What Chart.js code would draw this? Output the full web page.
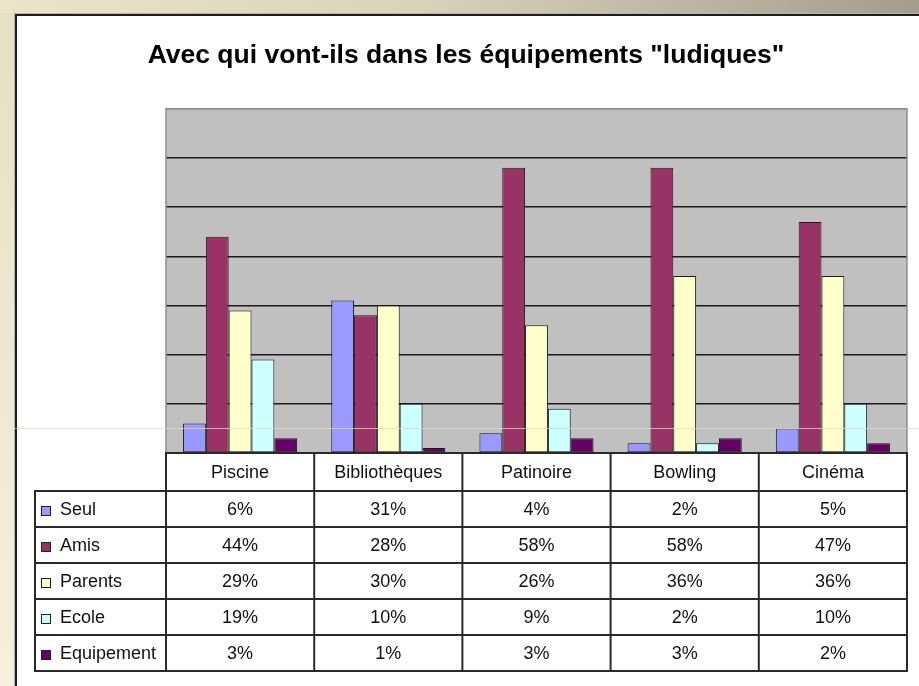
<!DOCTYPE html>
<html><head><meta charset="utf-8">
<script src="https://cdn.jsdelivr.net/npm/chart.js@4/dist/chart.umd.min.js"></script>
<style>
html,body{margin:0;padding:0;width:919px;height:686px;overflow:hidden;background:#fff;}
#leftStrip{position:absolute;left:0;top:0;width:14px;height:686px;background:linear-gradient(#e6dfc4,#f6f0dc);}
#topStrip{position:absolute;left:0;top:0;width:919px;height:13px;background:linear-gradient(to right,#ebe4ca,#d9d3ba 45%,#a29e8a);}
#panel{position:absolute;left:14px;top:13px;width:905px;height:673px;background:#fff;border-top:1px solid #b4b4b4;border-left:1px solid #b4b4b4;box-sizing:border-box;}
#inner{position:absolute;left:0;top:0;right:0;bottom:0;border-top:2px solid #1e1e1e;border-left:2px solid #1e1e1e;}
#wrap{position:absolute;left:25px;top:0;width:894px;height:686px;}
#artifact{position:absolute;left:15px;top:428px;width:904px;height:1px;background:rgba(225,220,185,0.75);}
</style>
</head><body>
<div id="leftStrip"></div><div id="topStrip"></div>
<div id="panel"><div id="inner"></div></div>
<div id="wrap"><canvas id="c" width="894" height="686" style="width:894px;height:686px"></canvas></div>
<div id="artifact"></div>
<script>
const categories = ['Piscine','Bibliothèques','Patinoire','Bowling','Cinéma'];
const seriesNames = ['Seul','Amis','Parents','Ecole','Equipement'];
const seul = [6,31,4,2,5];
const amis = [44,28,58,58,47];
const parents = [29,30,26,36,36];
const ecole = [19,10,9,2,10];
const equipement = [3,1,3,3,2];
const yTicks = [0,10,20,30,40,50,60,70];
const colors = ['#9999ff','#993366','#ffffcc','#ccffff','#660066'];
const seriesValues = [seul,amis,parents,ecole,equipement];

const FONT = '18px "Liberation Sans", Arial, sans-serif';

const plotBg = {
  id:'plotBg',
  beforeDraw(chart){
    const {ctx, chartArea:a} = chart;
    ctx.save();
    ctx.fillStyle = '#c0c0c0';
    ctx.fillRect(a.left, a.top, a.right-a.left, a.bottom-a.top);
    ctx.restore();
  },
  afterDatasetsDraw(chart){
    const {ctx, chartArea:a} = chart;
    ctx.save();
    ctx.strokeStyle = '#8c8c8c';
    ctx.lineWidth = 1.5;
    ctx.beginPath();
    ctx.moveTo(a.left, a.bottom); ctx.lineTo(a.left, a.top); ctx.lineTo(a.right, a.top); ctx.lineTo(a.right, a.bottom);
    ctx.stroke();
    ctx.restore();
  }
};

const tablePlugin = {
  id:'dataTable',
  afterDraw(chart){
    const {ctx, chartArea:a} = chart;
    const xs = chart.scales.x;
    const n = categories.length;
    const catW = (a.right-a.left)/n;
    const legendLeft = 10;
    const headerTop = a.bottom;
    const headerH = 38;
    const rowH = 36;
    const bodyTop = headerTop + headerH;
    const tableBottom = bodyTop + rowH*seriesNames.length;
    ctx.save();
    ctx.fillStyle = '#fff';
    ctx.fillRect(a.left, headerTop, a.right-a.left, tableBottom-headerTop);
    ctx.fillRect(legendLeft, bodyTop, a.left-legendLeft, tableBottom-bodyTop);
    ctx.strokeStyle = '#2a2a2a';
    ctx.lineWidth = 2;
    ctx.beginPath();
    ctx.moveTo(a.left-1, headerTop); ctx.lineTo(a.right+1, headerTop);
    for(let r=0;r<=seriesNames.length;r++){
      const y = bodyTop + r*rowH;
      ctx.moveTo(legendLeft-1, y); ctx.lineTo(a.right+1, y);
    }
    ctx.moveTo(legendLeft, bodyTop); ctx.lineTo(legendLeft, tableBottom);
    for(let i=0;i<=n;i++){
      const x = a.left + i*catW;
      ctx.moveTo(x, headerTop); ctx.lineTo(x, tableBottom);
    }
    ctx.stroke();

    ctx.fillStyle = '#111';
    ctx.font = FONT;
    ctx.textBaseline = 'middle';
    ctx.textAlign = 'center';
    categories.forEach((c,i)=>{
      ctx.fillText(c, xs.getPixelForValue(i), headerTop + headerH/2 + 1);
    });
    seriesNames.forEach((s,r)=>{
      const yc = bodyTop + r*rowH + rowH/2 + 1;
      seriesValues[r].forEach((v,i)=>{
        ctx.textAlign = 'center';
        ctx.fillStyle = '#111';
        ctx.fillText(v + '%', xs.getPixelForValue(i), yc);
      });
      // legend key
      ctx.fillStyle = colors[r];
      ctx.fillRect(legendLeft+6, yc-4, 10, 10);
      ctx.lineWidth = 1;
      ctx.strokeStyle = '#222';
      ctx.strokeRect(legendLeft+6.5, yc-3.5, 9, 9);
      ctx.fillStyle = '#111';
      ctx.textAlign = 'left';
      ctx.fillText(s, legendLeft+25, yc);
    });
    ctx.restore();
  }
};

new Chart(document.getElementById('c'), {
  type:'bar',
  data:{
    labels: categories,
    datasets: seriesNames.map((name,k)=>({
      label: name,
      data: seriesValues[k],
      backgroundColor: colors[k],
      borderColor: '#1a1a1a',
      borderWidth: 1,
      borderSkipped: false,
      categoryPercentage: 0.77,
      barPercentage: 1.0
    }))
  },
  options:{
    responsive:false,
    animation:false,
    layout:{padding:{left:0,right:12,top:0,bottom:233}},
    plugins:{
      legend:{display:false},
      tooltip:{enabled:false},
      title:{
        display:true,
        text:'Avec qui vont-ils dans les équipements "ludiques"',
        color:'#000',
        font:{family:'"Liberation Sans", Arial, sans-serif', size:26.5, weight:'bold'},
        padding:{top:40,bottom:37}
      }
    },
    scales:{
      x:{display:false},
      y:{
        display:true,
        min:0, max:70,
        afterBuildTicks(s){ s.ticks = yTicks.map(v=>({value:v})); },
        afterFit(s){ s.width = 141; },
        ticks:{display:false},
        grid:{drawTicks:false, color:(c)=> c.tick && c.tick.value===70 ? '#8c8c8c' : '#1a1a1a', lineWidth:1.5},
        border:{display:false}
      }
    }
  },
  plugins:[plotBg, tablePlugin]
});
</script>
</body></html>
